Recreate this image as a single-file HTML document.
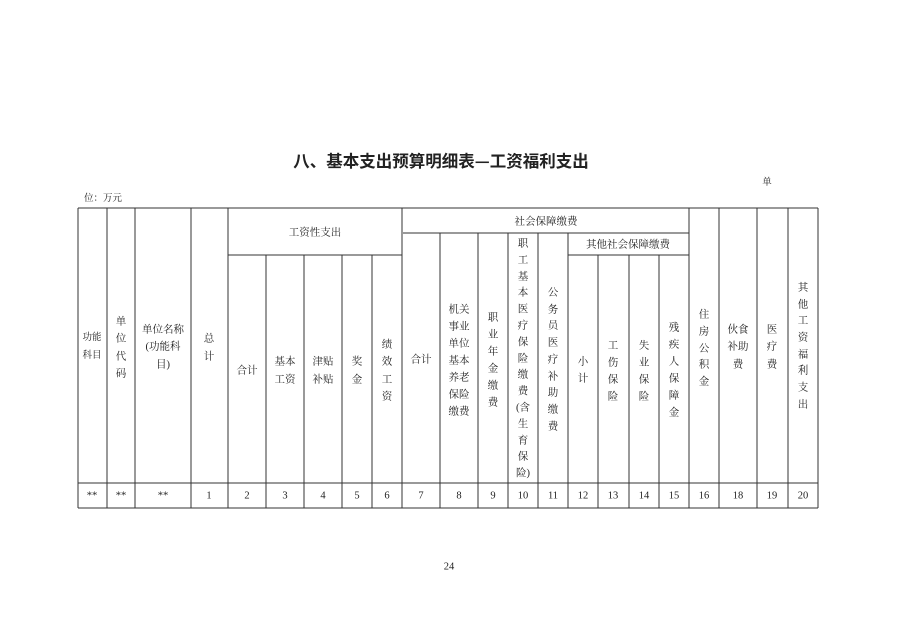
<!DOCTYPE html>
<html><head><meta charset="utf-8"><style>
html,body{margin:0;padding:0;background:#fff;}
svg{display:block;}
text{font-family:"Liberation Serif","Noto Serif CJK SC",serif;fill:#222;}
.t{font-size:10.5px;text-anchor:middle;dominant-baseline:central;}
.s{font-size:9.5px;text-anchor:middle;dominant-baseline:central;}
</style></head><body>
<svg width="898" height="635" viewBox="0 0 898 635" xmlns="http://www.w3.org/2000/svg">
<text x="441" y="160" style="font-family:'Noto Sans CJK SC',sans-serif;font-weight:bold;font-size:16.5px;" text-anchor="middle" dominant-baseline="central">八、基本支出预算明细表—工资福利支出</text>
<text class="s" x="767" y="183">单</text>
<text class="s" x="103" y="199">位：万元</text>
<text class="t" x="449" y="567">24</text>
<g stroke="#333" stroke-width="1" fill="none">
<line x1="78" y1="208" x2="818" y2="208"/>
<line x1="78" y1="483" x2="818" y2="483"/>
<line x1="78" y1="508" x2="818" y2="508"/>
<line x1="228" y1="255" x2="402" y2="255"/>
<line x1="403" y1="233" x2="689" y2="233"/>
<line x1="568" y1="255" x2="689" y2="255"/>
<line x1="78" y1="208" x2="78" y2="508"/>
<line x1="107" y1="208" x2="107" y2="508"/>
<line x1="135" y1="208" x2="135" y2="508"/>
<line x1="191" y1="208" x2="191" y2="508"/>
<line x1="228" y1="208" x2="228" y2="508"/>
<line x1="266" y1="255" x2="266" y2="508"/>
<line x1="304" y1="255" x2="304" y2="508"/>
<line x1="342" y1="255" x2="342" y2="508"/>
<line x1="372" y1="255" x2="372" y2="508"/>
<line x1="402" y1="208" x2="402" y2="508"/>
<line x1="440" y1="233" x2="440" y2="508"/>
<line x1="478" y1="233" x2="478" y2="508"/>
<line x1="508" y1="233" x2="508" y2="508"/>
<line x1="538" y1="233" x2="538" y2="508"/>
<line x1="568" y1="233" x2="568" y2="508"/>
<line x1="598" y1="255" x2="598" y2="508"/>
<line x1="629" y1="255" x2="629" y2="508"/>
<line x1="659" y1="255" x2="659" y2="508"/>
<line x1="689" y1="208" x2="689" y2="508"/>
<line x1="719" y1="208" x2="719" y2="508"/>
<line x1="757" y1="208" x2="757" y2="508"/>
<line x1="788" y1="208" x2="788" y2="508"/>
<line x1="818" y1="208" x2="818" y2="508"/>
</g>
<text class="t" x="315" y="233">工资性支出</text>
<text class="t" x="546" y="222">社会保障缴费</text>
<text class="t" x="628" y="245">其他社会保障缴费</text>
<text class="s" x="92" y="338">功能</text><text class="s" x="92" y="356">科目</text>
<text class="t" x="121" y="322">单</text><text class="t" x="121" y="339">位</text><text class="t" x="121" y="357">代</text><text class="t" x="121" y="374">码</text>
<text class="t" x="163" y="330">单位名称</text><text class="t" x="163" y="347">(功能科</text><text class="t" x="163" y="365">目)</text>
<text class="t" x="209" y="339">总</text><text class="t" x="209" y="357">计</text>
<text class="t" x="247" y="371">合计</text>
<text class="t" x="285" y="362">基本</text><text class="t" x="285" y="380">工资</text>
<text class="t" x="323" y="362">津贴</text><text class="t" x="323" y="380">补贴</text>
<text class="t" x="357" y="362">奖</text><text class="t" x="357" y="380">金</text>
<text class="t" x="387" y="345">绩</text><text class="t" x="387" y="362">效</text><text class="t" x="387" y="380">工</text><text class="t" x="387" y="397">资</text>
<text class="t" x="421" y="360">合计</text>
<text class="t" x="459" y="310">机关</text><text class="t" x="459" y="327">事业</text><text class="t" x="459" y="344">单位</text><text class="t" x="459" y="361">基本</text><text class="t" x="459" y="378">养老</text><text class="t" x="459" y="395">保险</text><text class="t" x="459" y="412">缴费</text>
<text class="t" x="493" y="318">职</text><text class="t" x="493" y="335">业</text><text class="t" x="493" y="352">年</text><text class="t" x="493" y="369">金</text><text class="t" x="493" y="386">缴</text><text class="t" x="493" y="403">费</text>
<text class="t" x="523" y="244">职</text><text class="t" x="523" y="260.4">工</text><text class="t" x="523" y="276.8">基</text><text class="t" x="523" y="293.2">本</text><text class="t" x="523" y="309.6">医</text><text class="t" x="523" y="326">疗</text><text class="t" x="523" y="342.4">保</text><text class="t" x="523" y="358.8">险</text><text class="t" x="523" y="375.2">缴</text><text class="t" x="523" y="391.6">费</text><text class="t" x="523" y="408">(含</text><text class="t" x="523" y="424.4">生</text><text class="t" x="523" y="440.8">育</text><text class="t" x="523" y="457.2">保</text><text class="t" x="523" y="473.6">险)</text>
<text class="t" x="553" y="293">公</text><text class="t" x="553" y="310">务</text><text class="t" x="553" y="326">员</text><text class="t" x="553" y="343">医</text><text class="t" x="553" y="360">疗</text><text class="t" x="553" y="377">补</text><text class="t" x="553" y="393">助</text><text class="t" x="553" y="410">缴</text><text class="t" x="553" y="427">费</text>
<text class="t" x="583" y="362">小</text><text class="t" x="583" y="379">计</text>
<text class="t" x="613" y="346">工</text><text class="t" x="613" y="363">伤</text><text class="t" x="613" y="380">保</text><text class="t" x="613" y="397">险</text>
<text class="t" x="644" y="346">失</text><text class="t" x="644" y="363">业</text><text class="t" x="644" y="380">保</text><text class="t" x="644" y="397">险</text>
<text class="t" x="674" y="328">残</text><text class="t" x="674" y="345">疾</text><text class="t" x="674" y="362">人</text><text class="t" x="674" y="379">保</text><text class="t" x="674" y="396">障</text><text class="t" x="674" y="413">金</text>
<text class="t" x="704" y="315">住</text><text class="t" x="704" y="332">房</text><text class="t" x="704" y="349">公</text><text class="t" x="704" y="365">积</text><text class="t" x="704" y="382">金</text>
<text class="t" x="738" y="330">伙食</text><text class="t" x="738" y="347">补助</text><text class="t" x="738" y="365">费</text>
<text class="t" x="772" y="330">医</text><text class="t" x="772" y="347">疗</text><text class="t" x="772" y="365">费</text>
<text class="t" x="803" y="288">其</text><text class="t" x="803" y="305">他</text><text class="t" x="803" y="321">工</text><text class="t" x="803" y="338">资</text><text class="t" x="803" y="355">福</text><text class="t" x="803" y="371">利</text><text class="t" x="803" y="388">支</text><text class="t" x="803" y="405">出</text>
<g class="t">
<text class="t" x="92" y="496">**</text><text class="t" x="121" y="496">**</text><text class="t" x="163" y="496">**</text>
<text class="t" x="209" y="496">1</text><text class="t" x="247" y="496">2</text><text class="t" x="285" y="496">3</text><text class="t" x="323" y="496">4</text><text class="t" x="357" y="496">5</text><text class="t" x="387" y="496">6</text>
<text class="t" x="421" y="496">7</text><text class="t" x="459" y="496">8</text><text class="t" x="493" y="496">9</text><text class="t" x="523" y="496">10</text><text class="t" x="553" y="496">11</text><text class="t" x="583" y="496">12</text><text class="t" x="613" y="496">13</text><text class="t" x="644" y="496">14</text><text class="t" x="674" y="496">15</text><text class="t" x="704" y="496">16</text><text class="t" x="738" y="496">18</text><text class="t" x="772" y="496">19</text><text class="t" x="803" y="496">20</text>
</g>
</svg>
</body></html>
